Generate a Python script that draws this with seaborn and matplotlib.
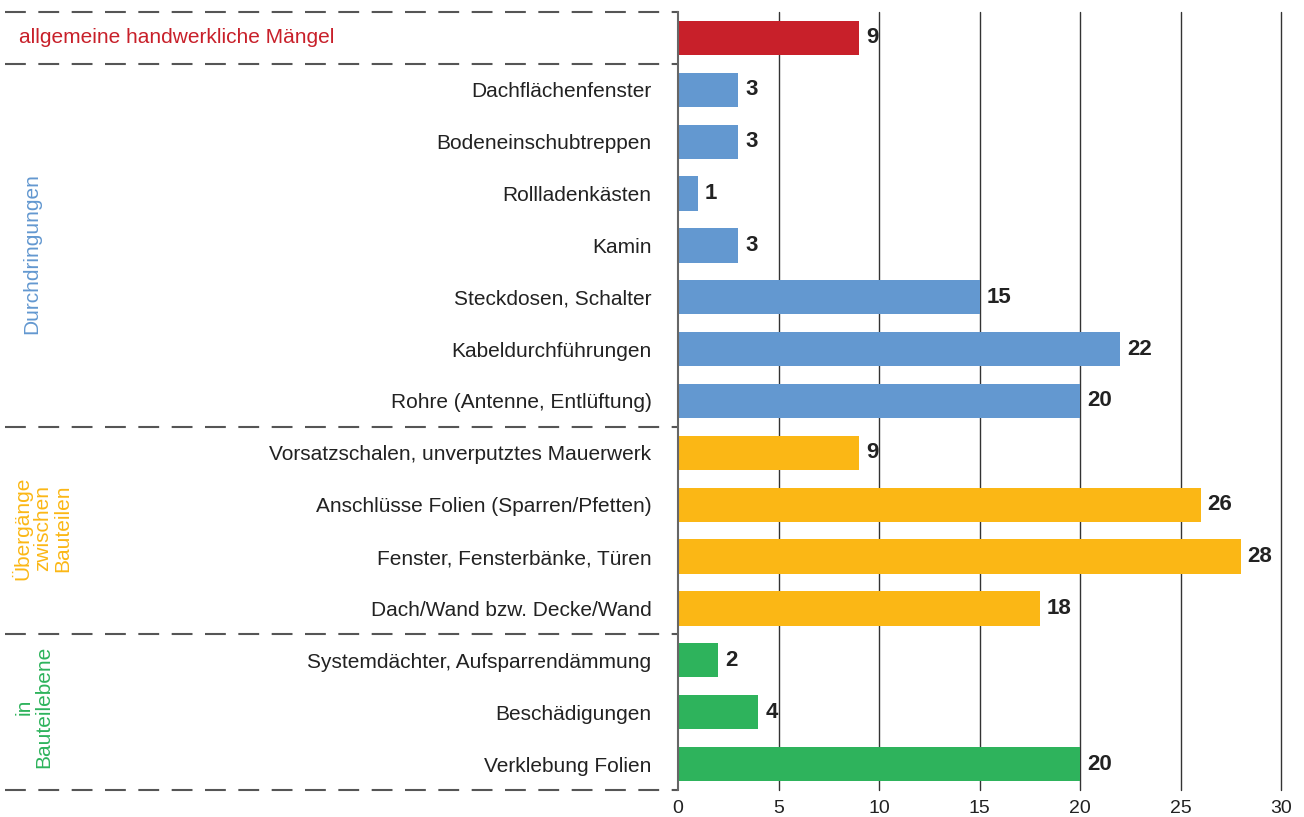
import pandas as pd
import seaborn as sns
import matplotlib.pyplot as plt
import matplotlib.transforms as mtransforms

# Daten
kategorien = [
    'allgemeine handwerkliche Mängel',
    'Dachflächenfenster',
    'Bodeneinschubtreppen',
    'Rollladenkästen',
    'Kamin',
    'Steckdosen, Schalter',
    'Kabeldurchführungen',
    'Rohre (Antenne, Entlüftung)',
    'Vorsatzschalen, unverputztes Mauerwerk',
    'Anschlüsse Folien (Sparren/Pfetten)',
    'Fenster, Fensterbänke, Türen',
    'Dach/Wand bzw. Decke/Wand',
    'Systemdächter, Aufsparrendämmung',
    'Beschädigungen',
    'Verklebung Folien',
]
werte = [9, 3, 3, 1, 3, 15, 22, 20, 9, 26, 28, 18, 2, 4, 20]
gruppen = ['allgemein'] + ['Durchdringungen'] * 7 + ['Übergänge'] * 4 + ['Bauteilebene'] * 3
gruppen_titel = {
    'Durchdringungen': 'Durchdringungen',
    'Übergänge': 'Übergänge\nzwischen\nBauteilen',
    'Bauteilebene': 'in\nBauteilebene',
}
farben = {
    'allgemein': '#C8202A',
    'Durchdringungen': '#6398D0',
    'Übergänge': '#FBB715',
    'Bauteilebene': '#2EB35C',
}

df = pd.DataFrame({'Kategorie': kategorien, 'Anzahl': werte, 'Gruppe': gruppen})

sns.set_style('white')
plt.rcParams['font.family'] = ['Liberation Sans', 'DejaVu Sans']

W, H = 1304, 817
fig, ax = plt.subplots(figsize=(W / 100, H / 100), dpi=100)
fig.subplots_adjust(left=678 / W, right=1281 / W, top=1 - 12 / H, bottom=1 - 790 / H)

sns.barplot(data=df, x='Anzahl', y='Kategorie', hue='Gruppe', palette=farben,
            dodge=False, width=0.66, legend=False, saturation=1, linewidth=0, ax=ax)

for cont in ax.containers:
    ax.bar_label(cont, fontsize=16, fontweight='bold', padding=5, color='#222222')

ax.set_xlim(0, 30)
ax.set_ylim(len(kategorien) - 0.5, -0.5)
ax.set_xticks(range(0, 31, 5))
ax.grid(axis='y', visible=False)
for xv in range(5, 31, 5):
    ax.axvline(xv, color='#333333', lw=1, zorder=0, clip_on=False)
for s in ['top', 'right', 'bottom']:
    ax.spines[s].set_visible(False)
ax.spines['left'].set_color('#666666')
ax.spines['left'].set_linewidth(1.5)
ax.tick_params(axis='x', length=0, labelsize=14, labelcolor='#222222', pad=7)
ax.tick_params(axis='y', length=0, pad=19, labelsize=15, labelcolor='#222222')
ax.set_xlabel('')
ax.set_ylabel('')

# erste Kategorie links als farbiger Text
labels = [t.get_text() for t in ax.get_yticklabels()]
labels[0] = ''
ax.set_yticks(range(len(labels)))
ax.set_yticklabels(labels)

trans = mtransforms.blended_transform_factory(fig.transFigure, ax.transData)
ax.text(19 / W, 0, kategorien[0], transform=trans, color=farben['allgemein'],
        fontsize=15, va='center', ha='left')

# gestrichelte Trennlinien
x0 = 5 / W
x1 = 678 / W
for y in [-0.5, 0.5, 7.5, 11.5, 14.5]:
    ax.plot([x0, x1], [y, y], transform=trans, color='#555555', lw=1.5,
            dashes=(10, 6), clip_on=False)

# Gruppentitel
grp_pos = {'Durchdringungen': (32, 4.15), 'Übergänge': (42, 9.45), 'Bauteilebene': (34, 12.9)}
for g, (xp, yp) in grp_pos.items():
    ax.text(xp / W, yp, gruppen_titel[g], transform=trans, rotation=90,
            color=farben[g], fontsize=15, ha='center', va='center',
            multialignment='center', linespacing=1.05)

fig.savefig('out.png', dpi=100)
